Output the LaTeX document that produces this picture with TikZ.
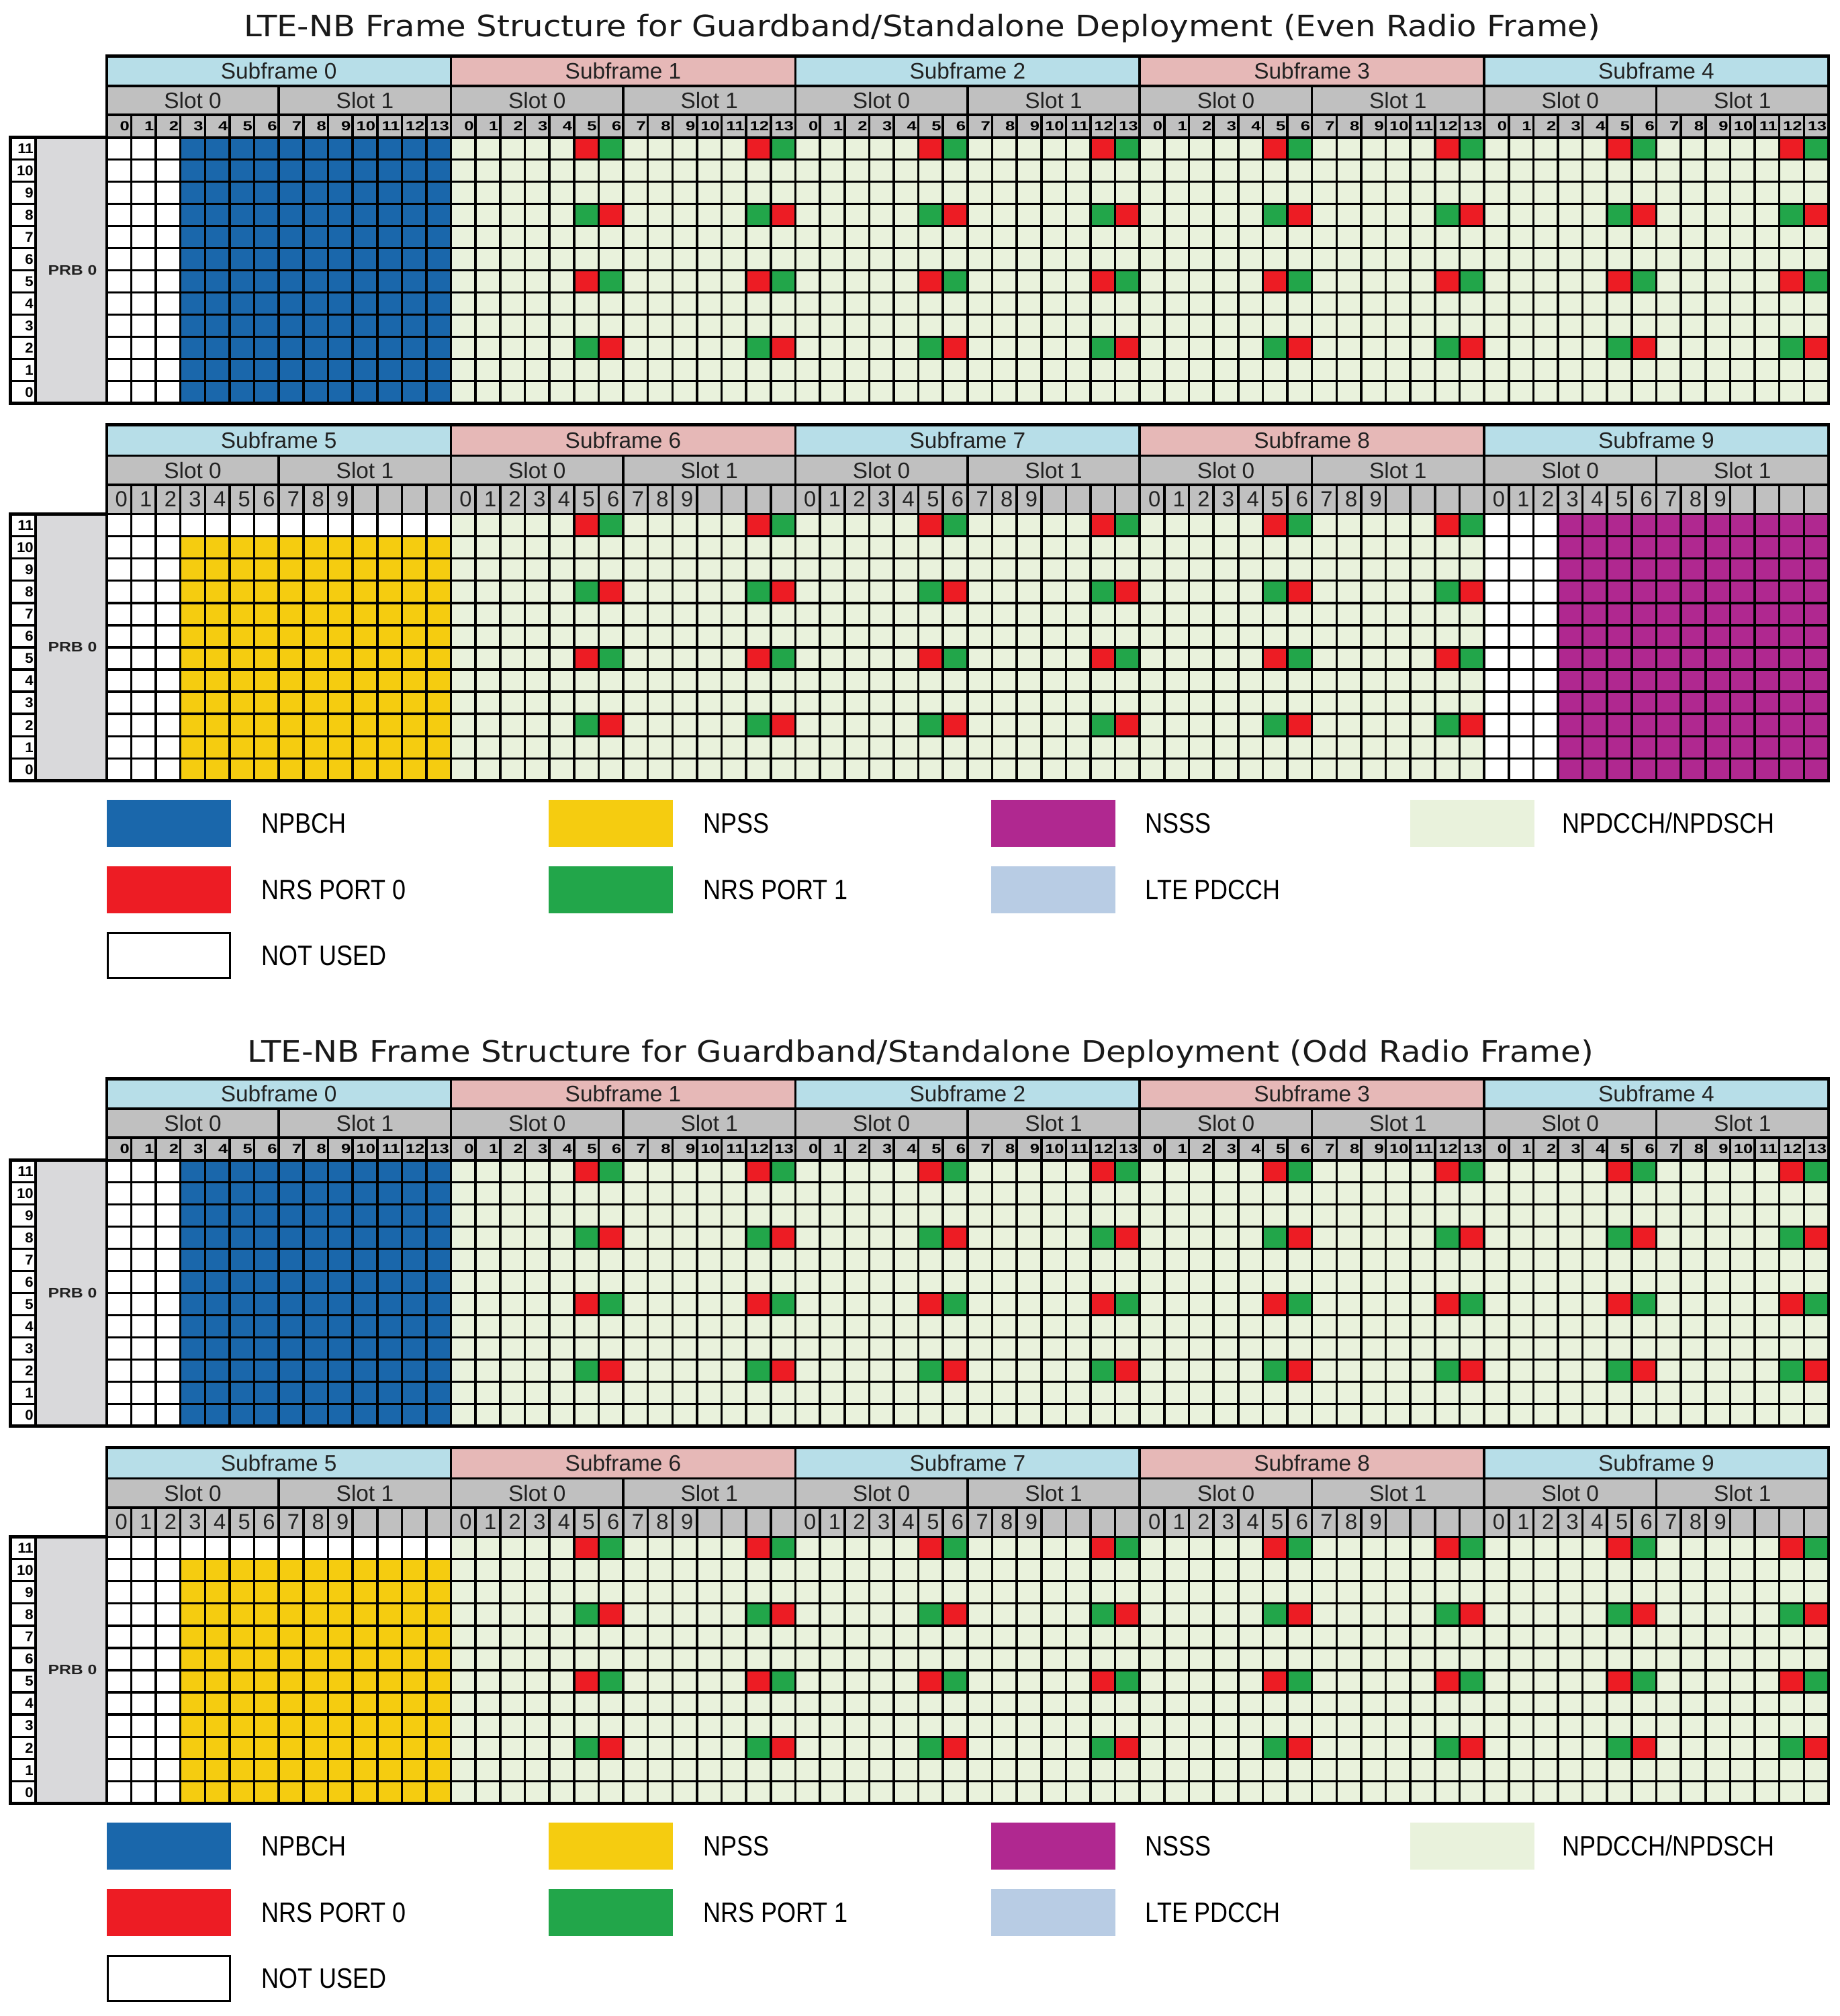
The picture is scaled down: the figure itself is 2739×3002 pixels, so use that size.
\documentclass[tikz,border=0pt]{standalone}
\usepackage{fontspec}
\usepackage{graphicx}
\setmainfont{Liberation Sans}
\newfontfamily\titlefont{DejaVu Sans}
\newfontfamily\legfont[FakeStretch=0.86]{Liberation Sans}

\definecolor{sfblue}{RGB}{183,222,232}
\definecolor{sfpink}{RGB}{230,184,183}
\definecolor{hdrgrey}{RGB}{192,192,192}
\definecolor{prbgrey}{RGB}{217,217,219}
\definecolor{npbch}{RGB}{26,103,171}
\definecolor{npss}{RGB}{245,204,16}
\definecolor{nsss}{RGB}{176,40,144}
\definecolor{npdcch}{RGB}{233,242,220}
\definecolor{nrsred}{RGB}{237,28,36}
\definecolor{nrsgreen}{RGB}{34,166,74}
\definecolor{ltepdcch}{RGB}{184,204,228}
\definecolor{txt}{RGB}{34,34,34}

\def\cwd{36.63}
\def\xL{158.8}

\tikzset{
  gridline/.style={line width=0.36mm,black},
  outerline/.style={line width=0.45mm,black},
  hdrtxt/.style={inner sep=0pt,text=txt,font=\fontsize{9.5}{11}\selectfont},
  smalldig/.style={inner sep=0pt,anchor=east,text=black,font=\bfseries\fontsize{5.6}{6}\selectfont},
  bigdig/.style={inner sep=0pt,anchor=east,text=txt,font=\fontsize{9.3}{10}\selectfont},
  rownum/.style={inner sep=0pt,anchor=east,text=black,font=\bfseries\fontsize{6}{7}\selectfont},
  prbtxt/.style={inner sep=0pt,text=txt,font=\bfseries\fontsize{5.8}{6}\selectfont},
  legtxt/.style={inner sep=0pt,anchor=west,text=black,font=\legfont\fontsize{11.9}{13}\selectfont},
  titletxt/.style={inner sep=0pt,text=black!90,font=\titlefont\fontsize{12.5}{14}\selectfont},
}

% #1 header top, #2 slot top, #3 symbol top, #4 grid top, #5 grid bottom,
% #6 first subframe, #7 big digits (0/1), #8 types, #9 name prefix
\newcommand\drawblock[9]{%
  \pgfmathsetmacro\rowh{(#5-#4)/12}%
  \pgfmathsetmacro\yhd{(#1+#2)/2}%
  \pgfmathsetmacro\ysl{(#2+#3)/2}%
  \pgfmathsetmacro\ysy{(#3+#4)/2}%
  \pgfmathsetmacro\xR{\xL+70*\cwd}%
  \fill[hdrgrey] (\xL,#2) rectangle (\xR,#4);
  \foreach \typ [count=\kk from 0] in {#8}{%
    \pgfmathsetmacro\xo{\xL+\kk*14*\cwd}%
    \pgfmathtruncatemacro\sfn{#6+\kk}%
    \ifodd\kk\def\sfcol{sfpink}\else\def\sfcol{sfblue}\fi
    \fill[\sfcol] (\xo,#1) rectangle (\xo+14*\cwd,#2);
    \node[hdrtxt] (#9sf\sfn) at (\xo+7*\cwd,\yhd) {Subframe \sfn};
    \node[hdrtxt] (#9sf\sfn s0) at (\xo+3.5*\cwd,\ysl) {Slot 0};
    \node[hdrtxt] (#9sf\sfn s1) at (\xo+10.5*\cwd,\ysl) {Slot 1};
    \if N\typ
      \fill[npdcch] (\xo,#4) rectangle (\xo+14*\cwd,#5);
      \foreach \cc/\rr/\cl in {5/0/nrsred,6/0/nrsgreen,12/0/nrsred,13/0/nrsgreen,
          5/3/nrsgreen,6/3/nrsred,12/3/nrsgreen,13/3/nrsred,
          5/6/nrsred,6/6/nrsgreen,12/6/nrsred,13/6/nrsgreen,
          5/9/nrsgreen,6/9/nrsred,12/9/nrsgreen,13/9/nrsred}{%
        \fill[\cl] (\xo+\cc*\cwd,#4+\rr*\rowh) rectangle ++(\cwd,\rowh);}
    \fi
    \if B\typ
      \fill[white] (\xo,#4) rectangle (\xo+3*\cwd,#5);
      \fill[npbch] (\xo+3*\cwd,#4) rectangle (\xo+14*\cwd,#5);
    \fi
    \if P\typ
      \fill[white] (\xo,#4) rectangle (\xo+3*\cwd,#5);
      \fill[nsss] (\xo+3*\cwd,#4) rectangle (\xo+14*\cwd,#5);
    \fi
    \if Y\typ
      \fill[white] (\xo,#4) rectangle (\xo+14*\cwd,#5);
      \fill[npss] (\xo+3*\cwd,#4+\rowh) rectangle (\xo+14*\cwd,#5);
    \fi
    \ifnum#7=0\relax
      \foreach \sy in {0,...,13}{%
        \node[smalldig] (#9d\sfn-\sy) at (\xo+\sy*\cwd+\cwd-2,\ysy) {\scalebox{1.3}[1]{\sy}};}
    \else
      \foreach \sy in {0,...,9}{%
        \node[bigdig] (#9d\sfn-\sy) at (\xo+\sy*\cwd+\cwd-5,\ysy) {\sy};}
    \fi
  }
  \foreach \i in {0,...,70}{\draw[gridline] (\xL+\i*\cwd,#3) -- (\xL+\i*\cwd,#5);}
  \foreach \i in {0,...,10}{\draw[gridline] (\xL+\i*7*\cwd,#2) -- (\xL+\i*7*\cwd,#3);}
  \foreach \i in {0,...,5}{\draw[gridline] (\xL+\i*14*\cwd,#1) -- (\xL+\i*14*\cwd,#2);}
  \foreach \j in {0,...,12}{\draw[gridline] (\xL,#4+\j*\rowh) -- (\xR,#4+\j*\rowh);}
  \draw[gridline] (\xL,#2) -- (\xR,#2);
  \draw[gridline] (\xL,#3) -- (\xR,#3);
  \draw[outerline] (\xL,#1) rectangle (\xR,#5);
  % left labels
  \fill[white] (15.3,#4) rectangle (53,#5);
  \fill[prbgrey] (53,#4) rectangle (\xL,#5);
  \foreach \j in {1,...,11}{\draw[gridline] (15.3,#4+\j*\rowh) -- (53,#4+\j*\rowh);}
  \draw[gridline] (53,#4) -- (53,#5);
  \draw[outerline] (15.3,#4) rectangle (\xL,#5);
  \foreach \n [count=\j from 0] in {11,10,...,0}{%
    \node[rownum] (#9r\n) at (50.5,#4+\j*\rowh+0.5*\rowh) {\scalebox{1.05}[1]{\n}};}
  \node[prbtxt] (#9prb) at (108,#4+6*\rowh) {\resizebox{7.3mm}{\height}{PRB 0}};
}

% #1 top of first legend row, #2 prefix
\newcommand\drawlegend[2]{%
  \pgfmathsetmacro\la{#1}\pgfmathsetmacro\lb{#1+99}\pgfmathsetmacro\lc{#1+197}%
  \fill[npbch] (159,\la) rectangle ++(185,70);
  \fill[npss] (817,\la) rectangle ++(185,70);
  \fill[nsss] (1476,\la) rectangle ++(185,70);
  \fill[npdcch] (2100,\la) rectangle ++(185,70);
  \fill[nrsred] (159,\lb) rectangle ++(185,70);
  \fill[nrsgreen] (817,\lb) rectangle ++(185,70);
  \fill[ltepdcch] (1476,\lb) rectangle ++(185,70);
  \draw[line width=0.35mm,black] (160.5,\lc+1.5) rectangle (342.5,\lc+68.5);
  \node[legtxt] (#2l1) at (389,\la+35) {NPBCH};
  \node[legtxt] (#2l2) at (1047,\la+35) {NPSS};
  \node[legtxt] (#2l3) at (1705,\la+35) {NSSS};
  \node[legtxt] (#2l4) at (2326,\la+35) {NPDCCH/NPDSCH};
  \node[legtxt] (#2l5) at (389,\lb+35) {NRS PORT 0};
  \node[legtxt] (#2l6) at (1047,\lb+35) {NRS PORT 1};
  \node[legtxt] (#2l7) at (1705,\lb+35) {LTE PDCCH};
  \node[legtxt] (#2l8) at (389,\lc+35) {NOT USED};
}

\begin{document}
\begin{tikzpicture}[x=0.1mm,y=-0.1mm]
\useasboundingbox[fill=white] (0,0) rectangle (2739,3002);

\node[titletxt] (title1) at (1373,42) {\resizebox{202mm}{\height}{LTE-NB Frame Structure for Guardband/Standalone Deployment (Even Radio Frame)}};
\drawblock{83.7}{128}{171}{204.7}{600.4}{0}{0}{B,N,N,N,N}{ea}
\drawblock{632.5}{678.5}{721.7}{765.3}{1162.6}{5}{1}{Y,N,N,N,P}{eb}
\drawlegend{1191}{e}

\node[titletxt] (title2) at (1371,1569) {\resizebox{200.4mm}{\height}{LTE-NB Frame Structure for Guardband/Standalone Deployment (Odd Radio Frame)}};
\drawblock{1606.7}{1651}{1694}{1727.7}{2123.4}{0}{0}{B,N,N,N,N}{oa}
\drawblock{2155.5}{2201.5}{2244.7}{2288.3}{2685.6}{5}{1}{Y,N,N,N,N}{ob}
\drawlegend{2714}{o}
\end{tikzpicture}
\end{document}
